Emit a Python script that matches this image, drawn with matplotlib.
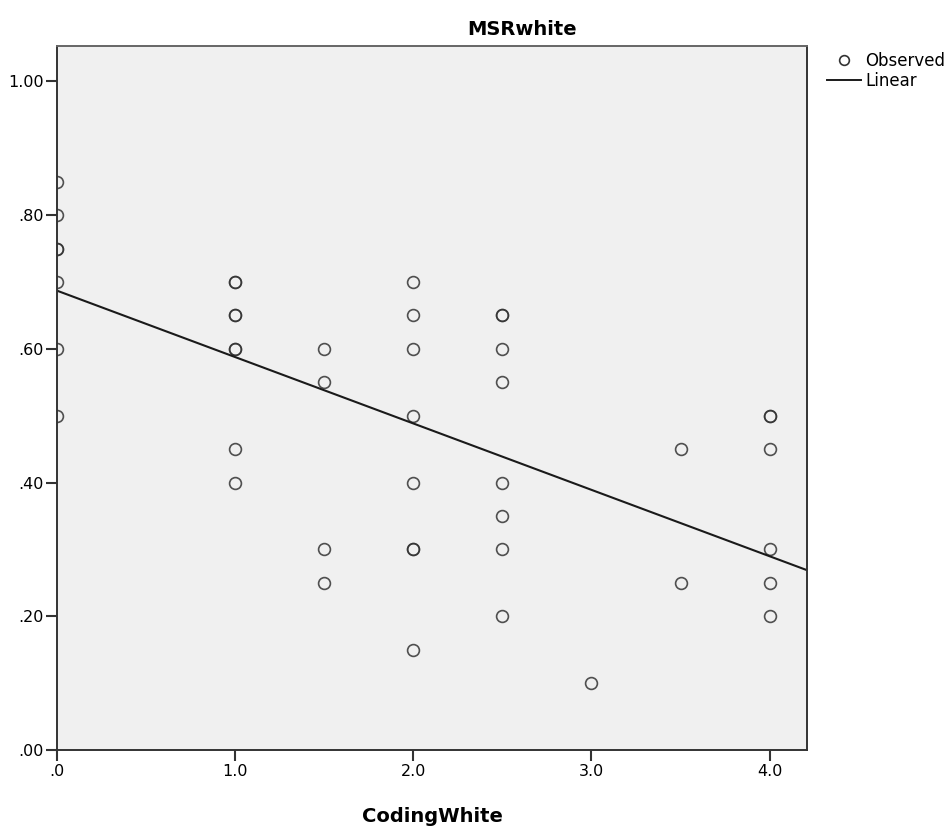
import numpy as np
import matplotlib
matplotlib.use("Agg")
import matplotlib.pyplot as plt
from matplotlib.lines import Line2D

plt.rcParams["font.family"] = ["DejaVu Sans"]

# ---------------------------
# Data (repeated pairs drawn twice)
# ---------------------------
coding_white = [0, 0, 0, 0, 0, 0, 0,
                1, 1, 1, 1, 1, 1, 1, 1,
                1.5, 1.5, 1.5, 1.5,
                2, 2, 2, 2, 2, 2, 2, 2,
                2.5, 2.5, 2.5, 2.5, 2.5, 2.5, 2.5, 2.5,
                3,
                3.5, 3.5,
                4, 4, 4, 4, 4, 4]
msr_white = [0.85, 0.80, 0.75, 0.75, 0.70, 0.60, 0.50,
             0.70, 0.70, 0.65, 0.65, 0.60, 0.60, 0.45, 0.40,
             0.60, 0.55, 0.30, 0.25,
             0.70, 0.65, 0.60, 0.50, 0.40, 0.30, 0.30, 0.15,
             0.65, 0.65, 0.60, 0.55, 0.40, 0.35, 0.30, 0.20,
             0.10,
             0.45, 0.25,
             0.50, 0.50, 0.45, 0.30, 0.25, 0.20]

# linear fit as shown
fit_intercept = 0.687
fit_slope = -0.0993

x_ticks = [0, 1, 2, 3, 4]
x_ticklabels = [".0", "1.0", "2.0", "3.0", "4.0"]
y_ticks = [0, 0.2, 0.4, 0.6, 0.8, 1.0]
y_ticklabels = [".00", ".20", ".40", ".60", ".80", "1.00"]

# ---------------------------
# Plot
# ---------------------------
fig = plt.figure(figsize=(9.52, 8.30), dpi=100)
ax = fig.add_axes([0.0599, 0.0964, 0.7878, 0.8482])
ax.set_facecolor("#f0f0f0")

xmin, xmax = 0, 4.21
ax.set_xlim(xmin, xmax)
ax.set_ylim(0, 1.053)

ax.plot(coding_white, msr_white, linestyle="none", marker="o", markersize=8.5,
        markerfacecolor="none", markeredgecolor="#333333", markeredgewidth=1.2,
        alpha=0.85)

xs = np.array([xmin, xmax])
ax.plot(xs, fit_intercept + fit_slope * xs, color="#1a1a1a", linewidth=1.5)

ax.set_xticks(x_ticks)
ax.set_xticklabels(x_ticklabels)
ax.set_yticks(y_ticks)
ax.set_yticklabels(y_ticklabels)
ax.tick_params(direction="out", length=8, width=1.5, color="#333333",
               labelsize=11.5)
ax.tick_params(axis="y", pad=1.5)
ax.tick_params(axis="x", pad=2)

for s in ax.spines.values():
    s.set_color("#333333")
    s.set_linewidth(1.4)
ax.spines["top"].set_color("#666666")

ax.set_title("MSRwhite", fontsize=14, fontweight="bold", pad=8, x=0.62)
ax.set_xlabel("CodingWhite", fontsize=14, fontweight="bold", labelpad=20)

handles = [
    Line2D([], [], linestyle="none", marker="o", markersize=7,
           markerfacecolor="none", markeredgecolor="#333333", markeredgewidth=1.2),
    Line2D([], [], color="#1a1a1a", linewidth=1.4),
]
ax.legend(handles, ["Observed", "Linear"], loc="upper left",
          bbox_to_anchor=(1.027, 0.991), frameon=False, fontsize=12,
          handlelength=2.0, handletextpad=0.3, labelspacing=0.1,
          borderaxespad=0, borderpad=0)

fig.savefig("out.png", dpi=100)
